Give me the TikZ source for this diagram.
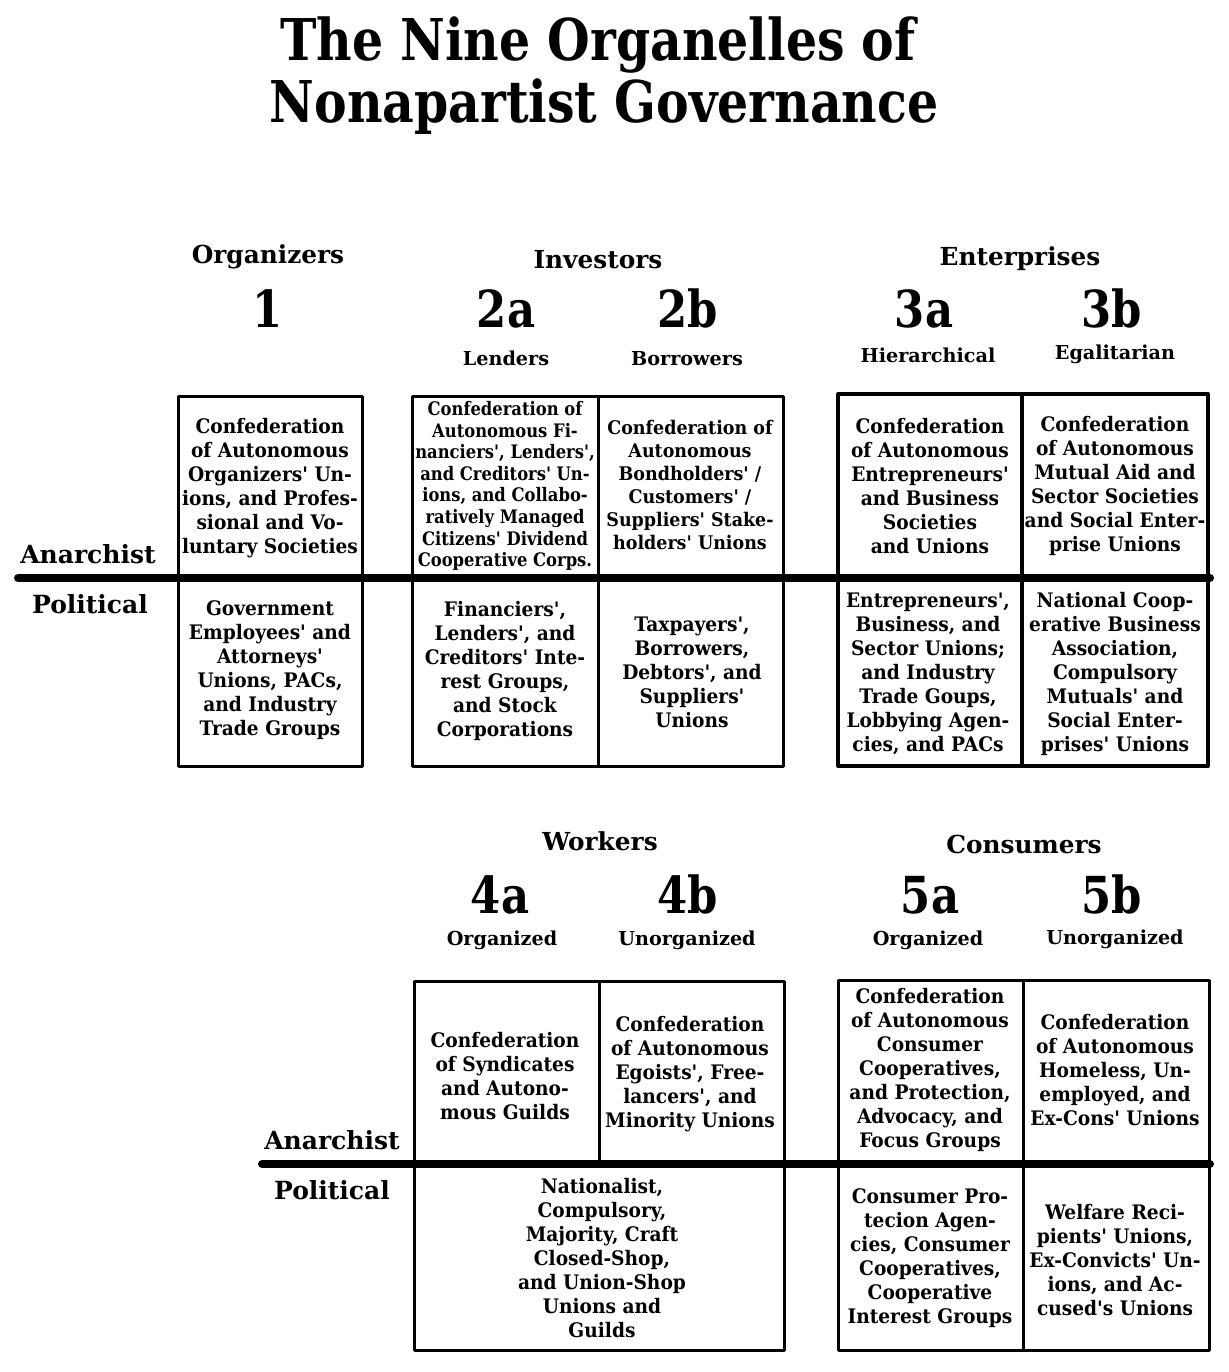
\documentclass[tikz,border=0pt]{standalone}
\usepackage{fontspec}
\setmainfont{DejaVu Serif}
\newfontfamily\cellfont{DejaVu Serif}[FakeStretch=0.93]
\newfontfamily\narrowfont{DejaVu Serif}[FakeStretch=0.88]
\newfontfamily\condfont{DejaVu Serif}[FakeStretch=0.85]
\tikzset{
  cellbox/.style={line width=1.5pt},
  thickbox/.style={line width=2pt},
  divider/.style={line width=4pt, line cap=round},
  celltext/.style={align=center, inner sep=0pt, font=\cellfont\bfseries\fontsize{10}{12}\selectfont},
  headline/.style={anchor=base, inner sep=0pt, font=\condfont\bfseries\fontsize{28.8}{31}\selectfont},
  groupname/.style={anchor=base, inner sep=0pt, font=\bfseries\fontsize{12.4}{14}\selectfont},
  organelle/.style={anchor=base, inner sep=0pt, font=\condfont\bfseries\fontsize{25.5}{28}\selectfont},
  subkind/.style={anchor=base, inner sep=0pt, font=\bfseries\fontsize{9.6}{11}\selectfont},
  sidelabel/.style={anchor=base, inner sep=0pt, font=\bfseries\fontsize{12.5}{14}\selectfont}
}
\begin{document}
\begin{tikzpicture}[x=0.5pt, y=-0.5pt, line join=round]
  \useasboundingbox (0,0) rectangle (1228,1372);
  \fill[white] (0,0) rectangle (1228,1372);
  % title
  \node[headline] (title1) at (598,60) {The Nine Organelles of};
  \node[headline] (title2) at (604,122) {Nonapartist Governance};
  % upper block: headings
  \node[groupname] (gorg) at (268,263) {Organizers};
  \node[groupname] (ginv) at (598,268) {Investors};
  \node[groupname] (gent) at (1020,265) {Enterprises};
  \foreach \x/\n in {268/1,506/2a,688/2b,924/3a,1112/3b}
    \node[organelle] (n\n) at (\x,327) {\n};
  \node[subkind] (klend) at (506,365) {Lenders};
  \node[subkind] (kborr) at (687,365) {Borrowers};
  \node[subkind] (khier) at (928,362) {Hierarchical};
  \node[subkind] (kegal) at (1115,359) {Egalitarian};
  % upper block: cells
  \draw[cellbox] (178,396) rectangle (362,766);
  \draw[cellbox] (412,396) rectangle (783,766) (598,396) -- (598,766);
  \draw[thickbox] (838,394) rectangle (1208,766) (1022,394) -- (1022,766);
  \draw[divider] (18,578) -- (1210,578);
  \node[sidelabel] (anar1) at (88,563) {Anarchist};
  \node[sidelabel] (poli1) at (90,613) {Political};
  \node[celltext] (a1) at (270,488) {Confederation\\of Autonomous\\Organizers' Un-\\ions, and Profes-\\sional and Vo-\\luntary Societies};
  \node[celltext, font=\narrowfont\bfseries\fontsize{9.3}{10.8}\selectfont] (a2a) at (505,486) {Confederation of\\Autonomous Fi-\\nanciers', Lenders',\\and Creditors' Un-\\ions, and Collabo-\\ratively Managed\\Citizens' Dividend\\Cooperative Corps.};
  \node[celltext, font=\cellfont\bfseries\fontsize{9.4}{11.5}\selectfont] (a2b) at (690,485) {Confederation of\\Autonomous\\Bondholders' /\\Customers' /\\Suppliers' Stake-\\holders' Unions};
  \node[celltext] (a3a) at (930,486) {Confederation\\of Autonomous\\Entrepreneurs'\\and Business\\Societies\\and Unions};
  \node[celltext] (a3b) at (1115,486) {Confederation\\of Autonomous\\Mutual Aid and\\Sector Societies\\and Social Enter-\\prise Unions};
  \node[celltext] (p1) at (270,670) {Government\\Employees' and\\Attorneys'\\Unions, PACs,\\and Industry\\Trade Groups};
  \node[celltext] (p2a) at (505,671) {Financiers',\\Lenders', and\\Creditors' Inte-\\rest Groups,\\and Stock\\Corporations};
  \node[celltext] (p2b) at (692,672) {Taxpayers',\\Borrowers,\\Debtors', and\\Suppliers'\\Unions};
  \node[celltext] (p3a) at (928,674) {Entrepreneurs',\\Business, and\\Sector Unions;\\and Industry\\Trade Goups,\\Lobbying Agen-\\cies, and PACs};
  \node[celltext] (p3b) at (1115,674) {National Coop-\\erative Business\\Association,\\Compulsory\\Mutuals' and\\Social Enter-\\prises' Unions};
  % lower block: headings
  \node[groupname] (gwork) at (600,850) {Workers};
  \node[groupname] (gcons) at (1024,853) {Consumers};
  \foreach \x/\n in {500/4a,688/4b,930/5a,1112/5b}
    \node[organelle] (n\n) at (\x,913) {\n};
  \node[subkind] (korg4) at (502,945) {Organized};
  \node[subkind] (kuno4) at (687,945) {Unorganized};
  \node[subkind] (korg5) at (928,945) {Organized};
  \node[subkind] (kuno5) at (1115,944) {Unorganized};
  % lower block: cells
  \draw[cellbox] (414,981) rectangle (784,1350) (599,981) -- (599,1163);
  \draw[cellbox] (838,980) rectangle (1209,1350) (1023,980) -- (1023,1350);
  \draw[divider] (262,1164) -- (1210,1164);
  \node[sidelabel] (anar2) at (332,1149) {Anarchist};
  \node[sidelabel] (poli2) at (332,1199) {Political};
  \node[celltext] (a4a) at (505,1076) {Confederation\\of Syndicates\\and Autono-\\mous Guilds};
  \node[celltext] (a4b) at (690,1074) {Confederation\\of Autonomous\\Egoists', Free-\\lancers', and\\Minority Unions};
  \node[celltext] (p4) at (602,1258) {Nationalist,\\Compulsory,\\Majority, Craft\\Closed-Shop,\\and Union-Shop\\Unions and\\Guilds};
  \node[celltext] (a5a) at (930,1070) {Confederation\\of Autonomous\\Consumer\\Cooperatives,\\and Protection,\\Advocacy, and\\Focus Groups};
  \node[celltext] (a5b) at (1115,1070) {Confederation\\of Autonomous\\Homeless, Un-\\employed, and\\Ex-Cons' Unions};
  \node[celltext] (p5a) at (930,1258) {Consumer Pro-\\tecion Agen-\\cies, Consumer\\Cooperatives,\\Cooperative\\Interest Groups};
  \node[celltext] (p5b) at (1115,1260) {Welfare Reci-\\pients' Unions,\\Ex-Convicts' Un-\\ions, and Ac-\\cused's Unions};
\end{tikzpicture}
\end{document}
